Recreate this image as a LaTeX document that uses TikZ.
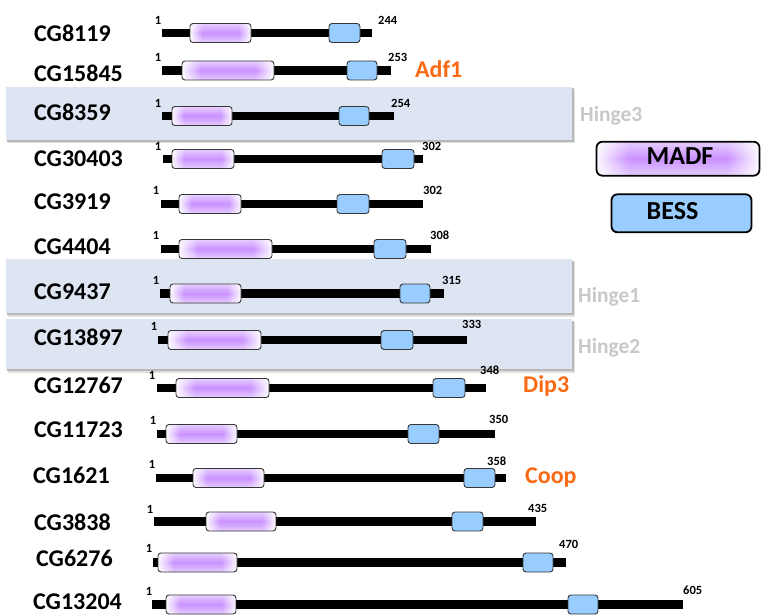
\documentclass[tikz,border=0pt]{standalone}
\usepackage{fontspec}
\setmainfont{Carlito}
\usetikzlibrary{fadings}

\definecolor{madfpurple}{RGB}{202,146,255}
\definecolor{bessblue}{RGB}{153,204,255}
\definecolor{bandblue}{RGB}{220,229,241}
\definecolor{hintgray}{RGB}{200,200,200}
\definecolor{tforange}{RGB}{250,105,20}
\definecolor{boxedge}{RGB}{55,55,55}

% purple core of a MADF domain, fading out towards both ends
\pgfdeclarehorizontalshading{madfh}{100bp}{%
  color(0bp)=(madfpurple!5); color(25bp)=(madfpurple!5);
  color(35bp)=(madfpurple); color(65bp)=(madfpurple);
  color(75bp)=(madfpurple!5); color(100bp)=(madfpurple!5)}
% lighter rim along the top and bottom edge of a MADF domain
\tikzfading[name=rimfade, top color=transparent!45, bottom color=transparent!45,
  middle color=transparent!100]

\tikzset{
  genelabel/.style={anchor=west, inner sep=0pt, font=\fontsize{24}{28}\selectfont\bfseries},
  numlabel/.style={inner sep=0pt, font=\fontsize{12.5}{14}\selectfont\bfseries},
  tflabel/.style={anchor=base west, inner sep=0pt, text=tforange,
    font=\fontsize{24}{28}\selectfont\bfseries},
  hingelabel/.style={anchor=base west, inner sep=0pt, text=hintgray,
    font=\fontsize{21.5}{26}\selectfont\bfseries},
  protbar/.style={line width=8.5pt, line cap=butt, draw=black},
  madfbox/.style={rectangle, rounded corners=3pt, draw=boxedge, line width=0.9pt,
    inner sep=0pt, minimum height=19pt,
    path picture={
      \shade[shading=madfh] (path picture bounding box.south west)
        rectangle (path picture bounding box.north east);
      \fill[white, path fading=rimfade] (path picture bounding box.south west)
        rectangle (path picture bounding box.north east);
    }},
  bessbox/.style={rectangle, rounded corners=3pt, draw=boxedge, line width=0.9pt,
    fill=bessblue, inner sep=0pt, minimum height=19pt},
  legendtext/.style={inner sep=0pt, font=\fontsize{26}{30}\selectfont\bfseries},
}

\begin{document}
\begin{tikzpicture}[x=1pt, y=-1pt]
\useasboundingbox (0,0) rectangle (761,615);

% highlighted rows (hinge proteins) with a soft shadow underneath
\foreach \top/\bot in {87/140, 259/313, 319/369} {
  \fill[black!12] (8,\top+3) rectangle (574.5,\bot+3.5);
  \fill[black!28] (7,\top+1.5) rectangle (573.5,\bot+2);
  \fill[bandblue] (6,\top) rectangle (572,\bot);
}

% name / label x / label y / bar start / bar end / bar y /
% MADF from / to / BESS from / to / "1" x / "1" y / length / length x / length y
\foreach \g/\gx/\gy/\bs/\be/\by/\ma/\mb/\sa/\sb/\ox/\oy/\len/\lx/\ly in {
  CG8119/34/33/162/372/33/190/251/329/360/158/20/244/378/20,
  CG15845/34/73/162/391/70.5/182/274/347/377/158/57/253/388/57,
  CG8359/34/112/162/394/116/172/232/339/369/158/103/254/391/103,
  CG30403/34/159/163/423/159/172/234/382/414/158/146/302/422/146,
  CG3919/34/202/161/423/204/179/241/337/369/156/190/302/423/190,
  CG4404/34/247/161/431/249/179/272/374/406/156/235/308/430/235,
  CG9437/34/292/160/444/293.5/170/241/400/430/156/280/315/442/280,
  CG13897/34/337/158/467/340/168/261/381/413/154/326/333/462/324,
  CG12767/34/385/157/486/388/176/269/433/465/152/375/348/480/370,
  CG11723/34/430/157/495/434/166/237/408/439/153/420/350/489/419,
  CG1621/33/475/156/506/478/193/264/464/495/152/464/358/487/461,
  CG3838/34/522/154/536/521.5/206/276/452/483/150/509/435/528/508,
  CG6276/36/558/153/566/562.5/158/237/523/553/149/548/470/559/544,
  CG13204/33/602/152/683/604.5/166/236/568/598/149/591/605/683/590} {
  \node[genelabel] (\g) at (\gx,\gy) {\g};
  \coordinate (\g-start) at (\bs,\by);
  \coordinate (\g-end) at (\be,\by);
  \draw[protbar] (\g-start) -- (\g-end);
  \node[madfbox, minimum width={(\mb-\ma)*1pt}] (\g-madf) at ({(\ma+\mb)/2},\by) {};
  \node[bessbox, minimum width={(\sb-\sa)*1pt}] (\g-bess) at ({(\sa+\sb)/2},\by) {};
  \node[numlabel] (\g-first) at (\ox,\oy) {1};
  \node[numlabel, anchor=west] (\g-last) at (\lx,\ly) {\len};
}

% known factors
\node[tflabel] (adf1) at (415,77.2) {Adf1};
\node[tflabel] (dip3) at (523,392.4) {Dip3};
\node[tflabel] (coop) at (525,483.7) {Coop};

% hinge proteins
\node[hingelabel] (hinge3) at (580,122) {Hinge3};
\node[hingelabel] (hinge1) at (578,302) {Hinge1};
\node[hingelabel] (hinge2) at (578,353) {Hinge2};

% legend
\node[madfbox, rounded corners=6pt, line width=1.8pt, draw=black,
  minimum width=163pt, minimum height=34pt] (legend-madf) at (678,158.7) {};
\node[legendtext] (legend-madf-text) at (680,156.5) {MADF};
\node[bessbox, rounded corners=6pt, line width=1.8pt, draw=black,
  minimum width=140pt, minimum height=38pt] (legend-bess) at (681.5,213.3) {};
\node[legendtext] (legend-bess-text) at (672.5,211) {BESS};
\end{tikzpicture}
\end{document}
